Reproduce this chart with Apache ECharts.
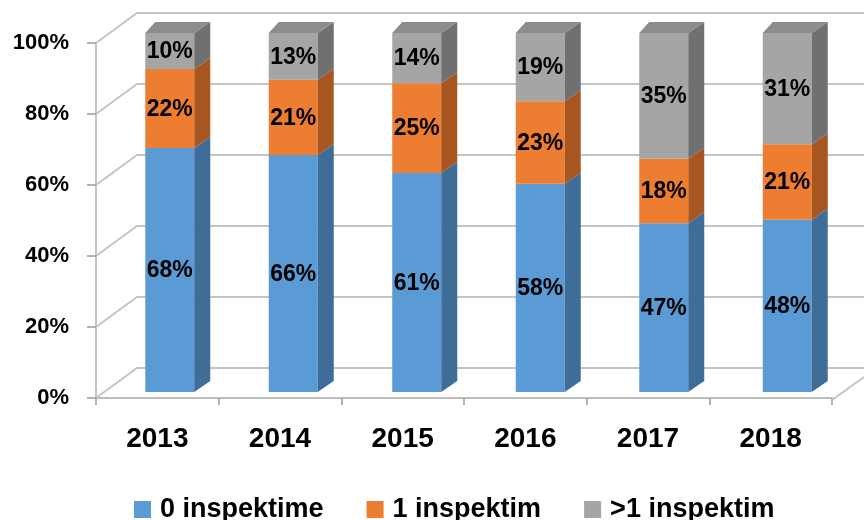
<!DOCTYPE html>
<html>
<head>
<meta charset="utf-8">
<script src="https://cdn.jsdelivr.net/npm/echarts@6/dist/echarts.min.js"></script>
<style>html,body{margin:0;padding:0;background:#fff}#c{width:864px;height:520px}</style>
</head>
<body>
<div id="c"></div>
<script>
const categories = ['2013', '2014', '2015', '2016', '2017', '2018'];
const zeroInspections = [68, 66, 61, 58, 47, 48];
const oneInspection = [22, 21, 25, 23, 18, 21];
const moreInspections = [10, 13, 14, 19, 35, 31];
const seriesNames = ['0 inspektime', '1 inspektim', '>1 inspektim'];
const yTicks = [0, 20, 40, 60, 80, 100];

const FONT = 'Liberation Sans, Arial, sans-serif';
const faces = [
  { front: '#5B9BD5', side: '#3E6D97', top: '#4A84B8' },
  { front: '#ED7D31', side: '#A8561F', top: '#C96A28' },
  { front: '#A5A5A5', side: '#707070', top: '#8C8C8C' }
];
const BAR_W = 49, SIDE_DX = 16, DEPTH_DY = -11, TOP_LEFT_DX = 10;
const WALL_DX = 41, WALL_DY = -30;

const stacks = [zeroInspections, oneInspection, moreInspections];
function buildData(k) {
  return categories.map((c, i) => {
    let base = 0;
    for (let j = 0; j < k; j++) base += stacks[j][i];
    return [i, base, base + stacks[k][i], stacks[k][i]];
  });
}

function barRenderer(k) {
  return function (params, api) {
    const c = api.value(0), lo = api.value(1), hi = api.value(2), v = api.value(3);
    const pLo = api.coord([c, lo]);
    const pHi = api.coord([c, hi]);
    const xL = pLo[0] - BAR_W / 2, xR = pLo[0] + BAR_W / 2;
    const yB = pLo[1], yT = pHi[1];
    const f = faces[k];
    const children = [
      { type: 'rect', shape: { x: xL, y: yT, width: BAR_W, height: yB - yT }, style: { fill: f.front } },
      { type: 'polygon', shape: { points: [[xR, yT], [xR + SIDE_DX, yT + DEPTH_DY], [xR + SIDE_DX, yB + DEPTH_DY], [xR, yB]] }, style: { fill: f.side } }
    ];
    if (hi >= 100) {
      children.push({ type: 'polygon', shape: { points: [[xL, yT], [xL + TOP_LEFT_DX, yT + DEPTH_DY], [xR + SIDE_DX, yT + DEPTH_DY], [xR, yT]] }, style: { fill: f.top } });
    }
    children.push({
      type: 'text',
      style: { text: v + '%', x: pLo[0], y: (yT + yB) / 2 + 1, align: 'center', verticalAlign: 'middle', textAlign: 'center', textVerticalAlign: 'middle', fill: '#000', font: 'bold 23px ' + FONT }
    });
    return { type: 'group', children: children };
  };
}

function wallRenderer(params, api) {
  const v = api.value(1);
  const p = api.coord([0, v]);
  const x0 = params.coordSys.x;
  const xEnd = params.coordSys.x + params.coordSys.width;
  const y = p[1];
  const children = [
    { type: 'polyline', shape: { points: [[x0, y], [x0 + WALL_DX, y + WALL_DY], [xEnd + 32, y + WALL_DY]] }, style: { stroke: '#c4c4c4', lineWidth: 2, fill: null } }
  ];
  if (v === 0) {
    children.push({ type: 'line', shape: { x1: xEnd, y1: y + 2, x2: xEnd + 32, y2: y + 2 - 23 }, style: { stroke: '#c4c4c4', lineWidth: 2 } });
  }
  return { type: 'group', children: children };
}

const chart = echarts.init(document.getElementById('c'), null, { renderer: 'canvas' });
const series = [{
  type: 'custom', name: 'walls', xAxisIndex: 0, yAxisIndex: 0, z: 1, silent: true,
  data: yTicks.map(v => [0, v]), renderItem: wallRenderer
}];
for (let k = 0; k < 3; k++) {
  series.push({
    type: 'custom', name: seriesNames[k], xAxisIndex: 1, yAxisIndex: 1, z: 3 + k,
    itemStyle: { color: faces[k].front },
    data: buildData(k), renderItem: barRenderer(k)
  });
}

chart.setOption({
  animation: false,
  grid: [
    { left: 96, right: 32, top: 43, bottom: 122 },
    { left: 108, right: 15, top: 33, bottom: 128 }
  ],
  xAxis: [
    {
      type: 'category', gridIndex: 0, data: categories,
      axisLine: { lineStyle: { color: '#bdbdbd', width: 2 } },
      axisTick: { show: true, length: 7, lineStyle: { color: '#9a9a9a', width: 1.5 } },
      axisLabel: { color: '#000', fontWeight: 'bold', fontSize: 28, fontFamily: FONT, margin: 27 },
      splitLine: { show: false }
    },
    { type: 'category', gridIndex: 1, data: categories, show: false }
  ],
  yAxis: [
    {
      type: 'value', gridIndex: 0, min: 0, max: 100, interval: 20,
      axisLine: { show: true, lineStyle: { color: '#c4c4c4', width: 2 } },
      axisTick: { show: true, length: 9, lineStyle: { color: '#9a9a9a', width: 1.5 } },
      axisLabel: { color: '#000', fontWeight: 'bold', fontSize: 22, fontFamily: FONT, margin: 27, formatter: '{value}%' },
      splitLine: { show: false }
    },
    { type: 'value', gridIndex: 1, min: 0, max: 100, show: false }
  ],
  legend: {
    data: seriesNames, left: 129, top: 491, icon: 'rect',
    itemWidth: 17, itemHeight: 17, itemGap: 43,
    textStyle: { color: '#000', fontWeight: 'bold', fontSize: 27, fontFamily: FONT, padding: [0, 0, 0, 4] }
  },
  series: series
});
</script>
</body>
</html>
